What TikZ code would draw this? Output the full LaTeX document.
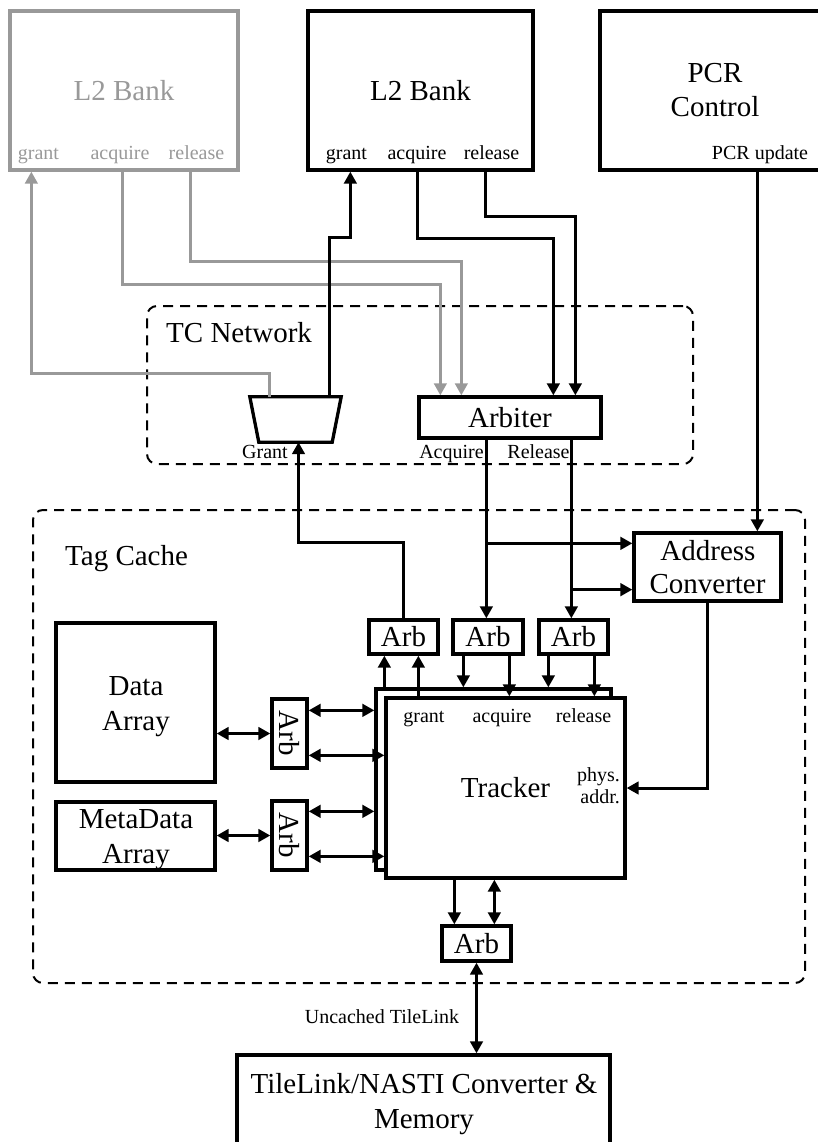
\documentclass[tikz,border=0pt]{standalone}
\usepackage{fontspec}
\setmainfont{Liberation Serif}
\usetikzlibrary{arrows.meta}
\definecolor{wiregray}{RGB}{153,153,153}
\newcommand\tkbig{\fontsize{29}{35}\selectfont}
\newcommand\tksmall{\fontsize{20}{24}\selectfont}
\tikzset{
  >={Triangle[length=12pt,width=12.5pt]},
  blk/.style={draw, line width=3.3pt, inner sep=0pt, font=\tkbig, align=center},
  gblk/.style={blk, draw=wiregray, text=wiregray},
  tcregion/.style={draw, line width=2pt, dash pattern=on 10pt off 7pt, rounded corners=10pt, inner sep=0pt},
  wire/.style={line width=3pt},
  gwire/.style={line width=2.7pt, draw=wiregray},
  tcport/.style={font=\tksmall, inner sep=0pt, anchor=base},
  tcbig/.style={font=\tkbig, inner sep=0pt, anchor=base},
  tctitle/.style={font=\tkbig, inner sep=0pt, anchor=base west},
}
\begin{document}
\begin{tikzpicture}[x=1pt,y=-1pt]
\useasboundingbox (0,0) rectangle (818,1142);
\clip (0,0) rectangle (818,1142);

% dashed regions
\node[tcregion, minimum width=546pt, minimum height=158pt] (tcn) at (420,385) {};
\node[tcregion, minimum width=772pt, minimum height=473pt] (tag) at (419,746.5) {};
\node[tctitle] (tcnt) at (166,342) {TC Network};
\node[tctitle] (tagt) at (65,565) {Tag Cache};

% L2 banks and PCR control
\node[gblk, minimum width=228pt, minimum height=159pt] (gl2) at (124,90.5) {L2 Bank};
\node[tcport, text=wiregray] (gl2pg) at (38.5,160) {grant};
\node[tcport, text=wiregray] (gl2pa) at (120,160) {acquire};
\node[tcport, text=wiregray] (gl2pr) at (196.5,160) {release};

\node[blk, minimum width=225pt, minimum height=159pt] (l2b) at (420.5,90.5) {L2 Bank};
\node[tcport] (l2bpg) at (346.5,160) {grant};
\node[tcport] (l2bpa) at (417,160) {acquire};
\node[tcport] (l2bpr) at (491.5,160) {release};

\node[blk, minimum width=222pt, minimum height=159pt] (pcr) at (711,90.5) {};
\node[tcbig] (pcrt1) at (715,83) {PCR};
\node[tcbig] (pcrt2) at (715,117) {Control};
\node[tcport] (pcrpu) at (760,160) {PCR update};

% TC network
\node[minimum width=91pt, minimum height=45pt, inner sep=0pt] (mux) at (295.5,419.5) {};
\draw[line width=3.3pt] (mux.north west) -- (mux.north east) -- ([xshift=-9pt]mux.south east)
  -- ([xshift=9pt]mux.south west) -- cycle;
\node[tcport] (muxl) at (265,458) {Grant};
\node[blk, minimum width=182pt, minimum height=41pt] (arb) at (510,417.5) {Arbiter};
\node[tcport] (arbla) at (451.5,458) {Acquire};
\node[tcport] (arblr) at (538.5,458) {Release};

% tag cache blocks
\node[blk, minimum width=147pt, minimum height=68pt] (addr) at (707.5,567) {};
\node[tcbig] (addrt1) at (708,560) {Address};
\node[tcbig] (addrt2) at (707.5,593) {Converter};

\node[blk, minimum width=69pt, minimum height=34pt] (arb1) at (403.5,637) {Arb};
\node[blk, minimum width=70pt, minimum height=34pt] (arb2) at (488,637) {Arb};
\node[blk, minimum width=69pt, minimum height=34pt] (arb3) at (573.5,637) {Arb};

\node[blk, minimum width=235pt, minimum height=181pt, fill=white] (back) at (493.5,779.5) {};
\node[blk, minimum width=239pt, minimum height=180pt, fill=white] (front) at (505.5,788) {Tracker};
\node[tcport] (trg) at (424,722) {grant};
\node[tcport] (tra) at (502,722) {acquire};
\node[tcport] (trr) at (583.5,722) {release};
\node[tcport, anchor=base east] (trp1) at (620,781) {phys.};
\node[tcport, anchor=base east] (trp2) at (620,803) {addr.};

\node[blk, minimum width=159pt, minimum height=159pt] (data) at (135.5,702.5) {};
\node[tcbig] (datat1) at (136,695) {Data};
\node[tcbig] (datat2) at (136,730) {Array};
\node[blk, minimum width=159pt, minimum height=68pt] (meta) at (135.5,836) {};
\node[tcbig] (metat1) at (136,828) {MetaData};
\node[tcbig] (metat2) at (136,863) {Array};

\node[blk, minimum width=35pt, minimum height=69pt] (arba) at (289.5,733.5) {};
\node[font=\tkbig, inner sep=0pt, rotate=-90] (arbat) at (arba) {Arb};
\node[blk, minimum width=35pt, minimum height=69pt] (arbb) at (289.5,835.5) {};
\node[font=\tkbig, inner sep=0pt, rotate=-90] (arbbt) at (arbb) {Arb};

\node[blk, minimum width=69pt, minimum height=35pt] (arb4) at (476.5,943.5) {Arb};

% memory
\node[blk, minimum width=373pt, minimum height=110pt] (mem) at (423.5,1110) {};
\node[tcbig] (memt1) at (424,1093) {TileLink/NASTI Converter \&};
\node[tcbig] (memt2) at (424,1128) {Memory};
\node[tcport] (uncl) at (382,1023) {Uncached TileLink};

% connection points
\coordinate (gl2g) at ([xshift=23pt]gl2.south west);
\coordinate (gl2a) at ([xshift=114pt]gl2.south west);
\coordinate (gl2r) at ([xshift=182pt]gl2.south west);
\coordinate (l2bg) at ([xshift=44pt]l2b.south west);
\coordinate (l2ba) at ([xshift=111pt]l2b.south west);
\coordinate (l2br) at ([xshift=179pt]l2b.south west);
\coordinate (pcru) at ([xshift=159pt]pcr.south west);
\coordinate (muxg) at ([xshift=20pt]mux.north west);
\coordinate (muxb) at ([xshift=-12pt]mux.north east);
\coordinate (muxin) at ([xshift=3pt]mux.south);
\coordinate (arbga) at ([xshift=23pt]arb.north west);
\coordinate (arbgr) at ([xshift=44pt]arb.north west);
\coordinate (arbba) at ([xshift=136pt]arb.north west);
\coordinate (arbbr) at ([xshift=158pt]arb.north west);
\coordinate (arbacq) at ([xshift=69pt]arb.south west);
\coordinate (arbrel) at ([xshift=154pt]arb.south west);
\coordinate (acqbr) at ([yshift=-12pt]addr.north west);
\coordinate (relbr) at ([yshift=13pt]addr.south west);
\coordinate (addrout) at ([xshift=75pt]addr.south west);
\coordinate (bk1) at ([xshift=10pt]back.north west);
\coordinate (fr1) at ([xshift=34pt]front.north west);
\coordinate (bk2) at ([xshift=89pt]back.north west);
\coordinate (fr2) at ([xshift=125pt]front.north west);
\coordinate (bk3) at ([xshift=174pt]back.north west);
\coordinate (fr3) at ([xshift=210pt]front.north west);
\coordinate (bkl1) at ([yshift=-23pt]back.north west);
\coordinate (frl1) at ([yshift=-59pt]front.north west);
\coordinate (bkl2) at ([yshift=-124pt]back.north west);
\coordinate (frl2) at ([yshift=-160pt]front.north west);
\coordinate (fb1) at ([xshift=70pt]front.south west);
\coordinate (fb2) at ([xshift=110pt]front.south west);

% links of the other bank
\draw[gwire,->] (muxg) -- ++(0,-23) -| (gl2g);
\draw[gwire,->] (gl2a) -- ++(0,113) -| (arbga);
\draw[gwire,->] (gl2r) -- ++(0,90) -| (arbgr);

% links of the active bank
\draw[wire,->] (muxb) -- ++(0,-159) -| (l2bg);
\draw[wire,->] (l2ba) -- ++(0,67) -| (arbba);
\draw[wire,->] (l2br) -- ++(0,45) -| (arbbr);
\draw[wire,->] (pcru) -- (pcru |- addr.north);

% arbiter outputs and address converter
\draw[wire,->] (arbacq) -- (arbacq |- arb2.north);
\draw[wire,->] (arbacq |- acqbr) -- (acqbr);
\draw[wire,->] (arbrel) -- (arbrel |- arb3.north);
\draw[wire,->] (arbrel |- relbr) -- (relbr);
\draw[wire,->] (arb1.north) -- ++(0,-76) -| (muxin);
\draw[wire,->] (addrout) |- (front.east);

% tracker ports
\draw[wire,->] (bk1) -- (bk1 |- arb1.south);
\draw[wire,->] (fr1) -- (fr1 |- arb1.south);
\draw[wire,->] (bk2 |- arb2.south) -- (bk2);
\draw[wire,->] (fr2 |- arb2.south) -- (fr2);
\draw[wire,->] (bk3 |- arb3.south) -- (bk3);
\draw[wire,->] (fr3 |- arb3.south) -- (fr3);

% arrays
\draw[wire,<->] (data.east |- arba.west) -- (arba.west);
\draw[wire,<->] (arba.east |- bkl1) -- (bkl1);
\draw[wire,<->] (arba.east |- frl1) -- (frl1);
\draw[wire,<->] (meta.east |- arbb.west) -- (arbb.west);
\draw[wire,<->] (arbb.east |- bkl2) -- (bkl2);
\draw[wire,<->] (arbb.east |- frl2) -- (frl2);

% memory side
\draw[wire,->] (fb1) -- (fb1 |- arb4.north);
\draw[wire,<->] (fb2) -- (fb2 |- arb4.north);
\draw[wire,<->] (arb4.south) -- (arb4.south |- mem.north);
\end{tikzpicture}
\end{document}
